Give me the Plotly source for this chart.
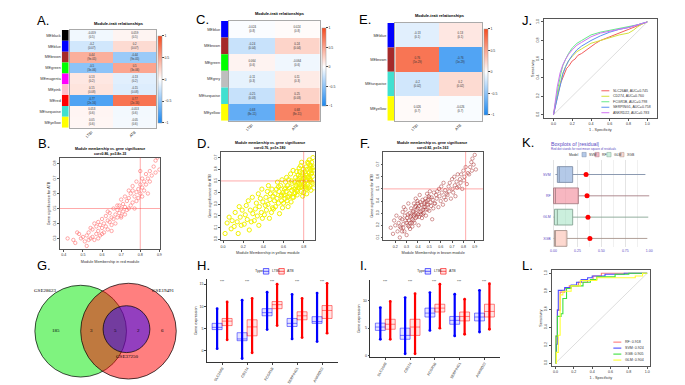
import plotly.graph_objects as go

W, H = 685, 385
SANS = "Liberation Sans, Arial, sans-serif"
SERIF = "Liberation Serif, Times New Roman, serif"

# ------------------------------------------------------------------ data
TRAITS = ["LTBI", "ATB"]

A_MODULES = ["MEblack", "MEblue", "MEbrown", "MEgreen", "MEmagenta", "MEpink", "MEred", "MEturquoise", "MEyellow"]
A_COLORS = ["#000000", "#0000ff", "#a52a2a", "#00ff00", "#ff00ff", "#ffc0cb", "#ff0000", "#40e0d0", "#ffff00"]
A_COR_LTBI = [-0.059, -0.2, 0.44, -0.5, 0.13, 0.15, -0.77, 0.053, 0.05]
A_PVAL = ["0.5", "0.07", "9e-05", "3e-06", "0.2", "0.08", "2e-16", "0.6", "0.6"]

C_MODULES = ["MEblue", "MEbrown", "MEgreen", "MEgrey", "MEturquoise", "MEyellow"]
C_COLORS = ["#0000ff", "#a52a2a", "#00ff00", "#bebebe", "#40e0d0", "#ffff00"]
C_COR_LTBI = [-0.024, -0.24, 0.064, -0.11, -0.25, -0.68]
C_PVAL = ["0.8", "0.04", "0.6", "0.3", "0.03", "8e-11"]

E_MODULES = ["MEblue", "MEbrown", "MEturquoise", "MEyellow"]
E_COLORS = ["#0000ff", "#a52a2a", "#40e0d0", "#ffff00"]
E_COR_LTBI = [-0.13, 0.76, -0.2, 0.026]
E_PVAL = ["0.1", "5e-29", "0.02", "0.7"]

B_PTS = [(0.42, 0.30), (0.45, 0.29), (0.46, 0.27), (0.48, 0.33), (0.49, 0.30), (0.50, 0.31), (0.51, 0.28),
         (0.52, 0.25), (0.52, 0.32), (0.53, 0.34), (0.54, 0.30), (0.55, 0.31), (0.55, 0.36), (0.56, 0.29),
         (0.57, 0.33), (0.57, 0.38), (0.58, 0.35), (0.58, 0.41), (0.59, 0.32), (0.59, 0.39), (0.60, 0.37),
         (0.60, 0.43), (0.61, 0.34), (0.61, 0.40), (0.62, 0.45), (0.62, 0.38), (0.63, 0.42), (0.63, 0.36),
         (0.64, 0.41), (0.64, 0.47), (0.65, 0.39), (0.65, 0.44), (0.66, 0.43), (0.66, 0.50), (0.67, 0.46),
         (0.67, 0.40), (0.68, 0.49), (0.68, 0.44), (0.69, 0.47), (0.69, 0.52), (0.70, 0.45), (0.70, 0.50),
         (0.71, 0.48), (0.71, 0.53), (0.72, 0.51), (0.72, 0.46), (0.73, 0.55), (0.73, 0.49), (0.74, 0.50),
         (0.74, 0.57), (0.75, 0.52), (0.75, 0.60), (0.76, 0.54), (0.76, 0.62), (0.77, 0.58), (0.77, 0.50),
         (0.78, 0.61), (0.78, 0.55), (0.79, 0.63), (0.79, 0.57), (0.80, 0.60), (0.80, 0.66), (0.81, 0.64),
         (0.81, 0.70), (0.82, 0.62), (0.82, 0.68), (0.83, 0.66), (0.83, 0.73), (0.84, 0.70), (0.84, 0.60),
         (0.85, 0.75), (0.85, 0.68), (0.86, 0.72), (0.87, 0.78), (0.88, 0.74), (0.88, 0.82), (0.89, 0.84),
         (0.90, 0.76), (0.80, 0.75), (0.78, 0.68), (0.47, 0.34), (0.53, 0.29), (0.56, 0.40), (0.60, 0.33),
         (0.63, 0.48), (0.65, 0.35), (0.68, 0.52), (0.70, 0.56), (0.72, 0.58), (0.74, 0.62), (0.76, 0.65),
         (0.81, 0.58), (0.70, 0.44), (0.58, 0.30), (0.54, 0.37)]

D_PTS = [(0.02, 0.05), (0.04, 0.14), (0.06, 0.19), (0.08, 0.09), (0.09, 0.16),
         (0.11, 0.11), (0.12, 0.23), (0.14, 0.15), (0.15, 0.05), (0.16, 0.28), (0.17, 0.19), (0.18, 0.12), (0.19, 0.25),
         (0.21, 0.13), (0.22, 0.21), (0.23, 0.29), (0.24, 0.17), (0.25, 0.33), (0.26, 0.08), (0.27, 0.25), (0.28, 0.15),
         (0.29, 0.36), (0.295, 0.22), (0.31, 0.16), (0.32, 0.26), (0.33, 0.31), (0.34, 0.20), (0.35, 0.39), (0.355, 0.12),
         (0.36, 0.28), (0.37, 0.35), (0.38, 0.23), (0.385, 0.43), (0.39, 0.18), (0.395, 0.32),
         (0.41, 0.21), (0.42, 0.29), (0.425, 0.36), (0.43, 0.25), (0.44, 0.41), (0.445, 0.30), (0.45, 0.46), (0.46, 0.18),
         (0.465, 0.34), (0.47, 0.39), (0.48, 0.23), (0.485, 0.43), (0.49, 0.27), (0.495, 0.37),
         (0.50, 0.26), (0.51, 0.33), (0.515, 0.39), (0.52, 0.28), (0.53, 0.43), (0.535, 0.35), (0.54, 0.49), (0.55, 0.31),
         (0.555, 0.41), (0.56, 0.22), (0.57, 0.46), (0.575, 0.37), (0.58, 0.33), (0.585, 0.51), (0.59, 0.27), (0.595, 0.40),
         (0.60, 0.31), (0.605, 0.38), (0.61, 0.43), (0.615, 0.35), (0.62, 0.49), (0.625, 0.41), (0.63, 0.53), (0.635, 0.33),
         (0.64, 0.46), (0.645, 0.28), (0.65, 0.51), (0.655, 0.37), (0.66, 0.44), (0.67, 0.56), (0.675, 0.32), (0.68, 0.42),
         (0.685, 0.48), (0.69, 0.36), (0.695, 0.59),
         (0.70, 0.36), (0.705, 0.43), (0.71, 0.49), (0.715, 0.40), (0.72, 0.53), (0.725, 0.46), (0.73, 0.58), (0.735, 0.38),
         (0.74, 0.51), (0.745, 0.55), (0.75, 0.44), (0.755, 0.61), (0.76, 0.47), (0.765, 0.54), (0.77, 0.63), (0.775, 0.41),
         (0.78, 0.50), (0.785, 0.57), (0.79, 0.37), (0.792, 0.52), (0.795, 0.46), (0.798, 0.60), (0.72, 0.44), (0.74, 0.48),
         (0.76, 0.52), (0.78, 0.66),
         (0.80, 0.40), (0.805, 0.48), (0.81, 0.53), (0.812, 0.45), (0.815, 0.58), (0.82, 0.50), (0.825, 0.62), (0.83, 0.43),
         (0.832, 0.55), (0.835, 0.60), (0.84, 0.47), (0.845, 0.65), (0.85, 0.53), (0.852, 0.57), (0.855, 0.68), (0.86, 0.46),
         (0.865, 0.51), (0.87, 0.63), (0.872, 0.42), (0.875, 0.56), (0.88, 0.49), (0.885, 0.61), (0.89, 0.54), (0.892, 0.70),
         (0.895, 0.59), (0.90, 0.44), (0.84, 0.66), (0.86, 0.52),
         (0.71, 0.39), (0.73, 0.42), (0.75, 0.49), (0.77, 0.45), (0.79, 0.55), (0.81, 0.47), (0.83, 0.51), (0.85, 0.44),
         (0.87, 0.59), (0.89, 0.48), (0.82, 0.56), (0.84, 0.53), (0.86, 0.61), (0.88, 0.57), (0.80, 0.52), (0.78, 0.45),
         (0.76, 0.58), (0.74, 0.41), (0.82, 0.44), (0.86, 0.64), (0.88, 0.66), (0.90, 0.62), (0.83, 0.39), (0.87, 0.50),
         (0.66, 0.39), (0.62, 0.44), (0.58, 0.38), (0.55, 0.45), (0.68, 0.50), (0.64, 0.36)]

F_PTS = [(0.16, 0.18), (0.18, 0.13), (0.19, 0.24), (0.20, 0.20), (0.21, 0.28), (0.22, 0.15), (0.23, 0.22), (0.24, 0.10),
         (0.245, 0.26), (0.25, 0.18), (0.26, 0.25), (0.265, 0.31), (0.27, 0.21), (0.275, 0.35), (0.28, 0.15), (0.285, 0.28),
         (0.29, 0.33), (0.30, 0.12), (0.305, 0.26), (0.31, 0.20), (0.315, 0.38), (0.32, 0.24), (0.325, 0.30), (0.33, 0.17),
         (0.335, 0.27), (0.34, 0.34), (0.345, 0.22), (0.35, 0.25), (0.355, 0.32), (0.36, 0.28), (0.365, 0.38), (0.37, 0.22),
         (0.375, 0.35), (0.38, 0.42), (0.385, 0.30), (0.39, 0.27), (0.395, 0.40), (0.40, 0.34), (0.405, 0.20), (0.41, 0.36),
         (0.415, 0.45), (0.42, 0.31), (0.425, 0.29), (0.43, 0.37), (0.435, 0.26), (0.44, 0.41), (0.445, 0.33), (0.36, 0.31),
         (0.38, 0.26), (0.40, 0.29), (0.42, 0.39), (0.45, 0.30), (0.455, 0.38), (0.46, 0.35), (0.465, 0.42), (0.47, 0.28),
         (0.475, 0.40), (0.48, 0.46), (0.485, 0.33), (0.49, 0.37), (0.495, 0.44), (0.50, 0.32), (0.505, 0.48), (0.51, 0.39),
         (0.515, 0.36), (0.52, 0.43), (0.525, 0.25), (0.53, 0.41), (0.535, 0.34), (0.54, 0.47), (0.545, 0.38),
         (0.55, 0.38), (0.56, 0.45), (0.565, 0.42), (0.57, 0.48), (0.58, 0.35), (0.585, 0.50), (0.59, 0.44), (0.60, 0.40),
         (0.605, 0.52), (0.61, 0.47), (0.62, 0.37), (0.625, 0.55), (0.63, 0.43), (0.64, 0.49), (0.645, 0.41), (0.65, 0.46),
         (0.66, 0.45), (0.67, 0.52), (0.675, 0.48), (0.68, 0.55), (0.69, 0.42), (0.70, 0.58), (0.705, 0.50), (0.71, 0.47),
         (0.72, 0.60), (0.725, 0.53), (0.73, 0.44), (0.74, 0.56), (0.745, 0.51), (0.75, 0.62),
         (0.76, 0.52), (0.77, 0.58), (0.775, 0.55), (0.78, 0.62), (0.79, 0.50), (0.80, 0.65), (0.805, 0.57), (0.81, 0.60),
         (0.82, 0.68), (0.83, 0.54), (0.84, 0.63), (0.85, 0.62), (0.86, 0.68), (0.87, 0.72), (0.875, 0.65), (0.88, 0.75),
         (0.89, 0.70), (0.90, 0.78), (0.91, 0.66),
         (0.27, 0.18), (0.29, 0.24), (0.31, 0.29), (0.33, 0.22), (0.35, 0.19), (0.37, 0.29), (0.39, 0.33), (0.41, 0.27),
         (0.43, 0.32), (0.45, 0.35), (0.47, 0.33), (0.49, 0.41), (0.34, 0.28), (0.36, 0.24), (0.38, 0.36), (0.40, 0.38),
         (0.44, 0.29), (0.46, 0.39), (0.48, 0.37), (0.50, 0.43), (0.30, 0.22), (0.32, 0.19), (0.26, 0.15), (0.24, 0.19)]

J_GENES = ["SLC26A8", "CD274", "FCGR1B", "SERPING1", "ANKRD22"]
J_AUC = ["0.745", "0.760", "0.798", "0.758", "0.783"]
J_COLORS = ["#f25c5c", "#d4e23a", "#66e98a", "#5b8ef0", "#d072f2"]
J_FPR = [
    [0, 0.02, 0.04, 0.06, 0.08, 0.1, 0.12, 0.14, 0.16, 0.18, 0.2, 0.23, 0.26, 0.3, 0.35, 0.4, 0.45, 0.5, 0.55, 0.6, 0.7, 0.8, 0.9, 1.0],
    [0, 0.02, 0.05, 0.08, 0.1, 0.13, 0.16, 0.2, 0.25, 0.3, 0.35, 0.4, 0.5, 0.6, 0.7, 0.8, 0.85, 0.9, 0.95, 1.0],
    [0, 0.02, 0.05, 0.08, 0.1, 0.13, 0.16, 0.2, 0.25, 0.3, 0.35, 0.4, 0.5, 0.6, 0.7, 0.8, 0.9, 1.0],
    [0, 0.02, 0.05, 0.08, 0.1, 0.13, 0.16, 0.2, 0.25, 0.3, 0.35, 0.4, 0.5, 0.6, 0.7, 0.8, 0.9, 1.0],
    [0, 0.02, 0.04, 0.07, 0.1, 0.13, 0.16, 0.2, 0.25, 0.3, 0.35, 0.4, 0.5, 0.6, 0.7, 0.8, 0.9, 1.0],
]
J_TPR = [
    [0, 0.1, 0.2, 0.28, 0.35, 0.4, 0.45, 0.5, 0.52, 0.55, 0.58, 0.6, 0.64, 0.66, 0.7, 0.73, 0.77, 0.8, 0.82, 0.84, 0.88, 0.92, 0.96, 1.0],
    [0, 0.12, 0.25, 0.38, 0.45, 0.52, 0.58, 0.63, 0.68, 0.71, 0.74, 0.77, 0.8, 0.83, 0.86, 0.88, 0.91, 0.95, 0.98, 1.0],
    [0, 0.14, 0.3, 0.45, 0.53, 0.6, 0.66, 0.72, 0.77, 0.8, 0.83, 0.86, 0.89, 0.91, 0.93, 0.95, 0.97, 1.0],
    [0, 0.1, 0.22, 0.35, 0.44, 0.52, 0.58, 0.64, 0.7, 0.74, 0.77, 0.8, 0.85, 0.89, 0.92, 0.94, 0.97, 1.0],
    [0, 0.15, 0.3, 0.45, 0.54, 0.6, 0.65, 0.7, 0.75, 0.78, 0.81, 0.84, 0.88, 0.9, 0.92, 0.94, 0.97, 1.0],
]

L_MODELS = ["RF", "SVM", "XGB", "GLM"]
L_AUC = ["0.918", "0.924", "0.905", "0.904"]
L_COLORS = ["#ff7b7b", "#4d4dff", "#3de03d", "#ffff33"]
L_FPR = [
    [0, 0.005, 0.005, 0.02, 0.02, 0.05, 0.05, 0.1, 0.1, 0.15, 0.15, 0.25, 0.25, 0.35, 0.35, 0.41, 0.41, 0.5, 0.5, 1.0],
    [0, 0.01, 0.01, 0.02, 0.02, 0.03, 0.03, 0.1, 0.1, 0.17, 0.17, 0.23, 0.23, 0.28, 0.28, 0.35, 0.35, 0.4, 0.4, 0.54, 0.54, 0.75, 0.75, 1.0],
    [0, 0.005, 0.005, 0.02, 0.02, 0.06, 0.06, 0.08, 0.08, 0.12, 0.12, 0.17, 0.17, 0.3, 0.3, 0.38, 0.38, 0.45, 0.45, 0.65, 0.65, 0.8, 0.8, 1.0],
    [0, 0.01, 0.01, 0.03, 0.03, 0.05, 0.05, 0.08, 0.08, 0.17, 0.17, 0.27, 0.27, 0.45, 0.45, 0.87, 0.87, 0.95, 0.95, 1.0],
]
L_TPR = [
    [0, 0, 0.3, 0.3, 0.59, 0.59, 0.79, 0.79, 0.83, 0.83, 0.86, 0.86, 0.9, 0.9, 0.92, 0.92, 0.97, 0.97, 1.0, 1.0],
    [0, 0, 0.21, 0.21, 0.59, 0.59, 0.81, 0.81, 0.84, 0.84, 0.87, 0.87, 0.9, 0.9, 0.93, 0.93, 0.95, 0.95, 0.97, 0.97, 0.99, 0.99, 1.0, 1.0],
    [0, 0, 0.3, 0.3, 0.52, 0.52, 0.55, 0.55, 0.72, 0.72, 0.83, 0.83, 0.86, 0.86, 0.9, 0.9, 0.93, 0.93, 0.96, 0.96, 0.99, 0.99, 1.0, 1.0],
    [0, 0, 0.12, 0.12, 0.31, 0.31, 0.76, 0.76, 0.8, 0.8, 0.86, 0.86, 0.92, 0.92, 0.95, 0.95, 0.97, 0.97, 1.0, 1.0],
]
DIAG = [0, 1]

K_MODELS = ["SVM", "RF", "GLM", "XGB"]
K_FILL = ["rgba(118,156,214,0.55)", "rgba(240,112,132,0.5)", "rgba(140,220,180,0.45)", "rgba(250,168,148,0.45)"]
K_LINE = ["#7f8fa8", "#a87f86", "#86a594", "#a8948c"]
K_LO = [0.02, 0.0, 0.0, 0.0]
K_Q1 = [0.04, 0.0, 0.01, 0.01]
K_MED = [0.06, 0.02, 0.04, 0.02]
K_Q3 = [0.20, 0.26, 0.20, 0.14]
K_HI = [0.96, 1.0, 0.99, 0.98]
K_RMSE = [0.34, 0.35, 0.36, 0.38]

VENN_SETS = ["GSE28623", "GSE19491", "GSE37250"]
VENN_COUNTS = ["185", "3", "5", "2", "6"]

GENES = ["SLC26A8", "CD274", "FCGR1B", "SERPING1", "ANKRD22"]
H_LTBI = dict(lo=[0.5, -1.7, 4.8, 2.7, 2.1], q1=[4.8, 2.3, 7.9, 5.5, 6.2], med=[5.3, 2.7, 8.6, 6.2, 6.6],
              q3=[6.2, 4.1, 9.5, 7.3, 7.7], hi=[9.5, 11.4, 13.2, 12.7, 13.0])
H_ATB = dict(lo=[2.5, -0.4, 5.7, 3.0, 4.0], q1=[5.7, 3.4, 9.5, 7.0, 7.3], med=[6.7, 5.4, 10.4, 7.9, 9.1],
             q3=[7.3, 7.0, 11.1, 8.8, 10.2], hi=[11.0, 11.8, 15.0, 11.8, 15.2])
I_LTBI = dict(lo=[3.0, 0.4, 4.6, 3.6, 4.3], q1=[4.6, 3.0, 7.0, 5.7, 6.3], med=[5.2, 3.7, 7.7, 6.4, 7.0],
              q3=[5.9, 5.0, 8.6, 7.1, 7.7], hi=[8.7, 10.5, 11.4, 11.1, 11.8])
I_ATB = dict(lo=[3.0, 0.4, 5.0, 3.9, 4.8], q1=[4.8, 3.7, 7.9, 6.3, 7.0], med=[5.7, 5.2, 8.6, 7.1, 8.0],
             q3=[6.6, 6.6, 9.3, 7.9, 9.3], hi=[9.8, 11.2, 12.9, 10.2, 13.0])

# ------------------------------------------------------------------ helpers
fig = go.Figure()
LAYOUT = {}
ANN = []
SHAPES = []


def add_axes(i, x0, x1, ytop, ybot, xkw=None, ykw=None):
    xn, yn = ("xaxis", "yaxis") if i == 1 else (f"xaxis{i}", f"yaxis{i}")
    xr, yr = ("x", "y") if i == 1 else (f"x{i}", f"y{i}")
    xa = dict(domain=[x0 / W, x1 / W], anchor=yr)
    ya = dict(domain=[1 - ybot / H, 1 - ytop / H], anchor=xr)
    xa.update(xkw or {})
    ya.update(ykw or {})
    LAYOUT[xn] = xa
    LAYOUT[yn] = ya
    return xr, yr


def note(text, xpx, ypx, size, xanchor="center", yanchor="middle", color="#000", family=SANS, angle=0):
    ANN.append(dict(text=text, x=xpx / W, y=1 - ypx / H, xref="paper", yref="paper", showarrow=False,
                    xanchor=xanchor, yanchor=yanchor, textangle=angle,
                    font=dict(size=size, color=color, family=family)))


def rbase(**kw):
    d = dict(showline=True, mirror=True, linecolor="#555", linewidth=0.6, ticks="outside", ticklen=2,
             tickwidth=0.5, tickcolor="#555", tickfont=dict(size=3.6, color="#333"), showgrid=False,
             zeroline=False)
    d.update(kw)
    return d


CS = [[0, "#1a87f0"], [0.5, "#ffffff"], [1, "#f64a1e"]]


def heat_panel(ib, ih, modules, colors, cor, pvals, colx, heatx, ytop, ybot, cbx, cbtop, cbbot):
    xr, yr = add_axes(ib, colx[0], colx[1], ytop, ybot,
                      xkw=dict(range=[0, 1], visible=False),
                      ykw=dict(type="category", categoryorder="array", categoryarray=modules,
                               autorange="reversed", showline=False, ticks="", showgrid=False,
                               tickfont=dict(size=3.8, color="#333")))
    fig.add_trace(go.Bar(x=[1] * len(modules), y=modules, orientation="h", width=1,
                         marker=dict(color=colors, line=dict(width=0)), xaxis=xr, yaxis=yr,
                         hoverinfo="skip"))
    z = [[v, -v] for v in cor]
    text = [[f"{v:g}<br>({p})", f"{-v:g}<br>({p})"] for v, p in zip(cor, pvals)]
    xr2, yr2 = add_axes(ih, heatx[0], heatx[1], ytop, ybot,
                        xkw=dict(type="category", tickangle=-45, tickfont=dict(size=3.8, color="#333"),
                                 showline=True, mirror=True, linecolor="#aaa", linewidth=0.8, ticks="",
                                 showgrid=False),
                        ykw=dict(type="category", categoryorder="array", categoryarray=modules,
                                 autorange="reversed", showticklabels=False, showline=True, mirror=True,
                                 linecolor="#aaa", linewidth=0.8, ticks="", showgrid=False))
    fig.add_trace(go.Heatmap(z=z, x=TRAITS, y=modules, text=text, texttemplate="%{text}",
                             textfont=dict(size=2.8, color="#333"), colorscale=CS, zmin=-1, zmax=1,
                             xaxis=xr2, yaxis=yr2, hoverinfo="skip",
                             colorbar=dict(x=cbx / W, xanchor="left", y=1 - (cbtop + cbbot) / 2 / H,
                                           yanchor="middle", len=(cbbot - cbtop) / H, lenmode="fraction",
                                           thickness=4, tickvals=[-1, -0.5, 0, 0.5, 1],
                                           ticktext=["−1", "−0.5", "0", "0.5", "1"],
                                           tickfont=dict(size=3.5, color="#333"), ticks="outside", ticklen=2,
                                           tickwidth=0.5, outlinewidth=0.5, outlinecolor="#999",
                                           xpad=0, ypad=0)))


# ------------------------------------------------------------------ A, C, E heatmaps
heat_panel(1, 2, A_MODULES, A_COLORS, A_COR_LTBI, A_PVAL, (53, 60), (61, 148), 22, 120, 150, 28, 115)
note("<b>Module-trait relationships</b>", 110, 16, 4)
heat_panel(3, 4, C_MODULES, C_COLORS, C_COR_LTBI, C_PVAL, (213, 220), (221, 312), 13, 113, 314, 20, 98)
note("<b>Module-trait relationships</b>", 272, 6, 4)
heat_panel(5, 6, E_MODULES, E_COLORS, E_COR_LTBI, E_PVAL, (380, 387), (388, 475), 15, 113, 477, 21, 107)
note("<b>Module-trait relationships</b>", 433, 8, 4)


# ------------------------------------------------------------------ B, D, F scatter
def scatter_panel(i, pts, box, xrange, yrange, xticks, yticks, color, size, lw, xtitle, title2, tx, ty, vline, hline):
    xr, yr = add_axes(i, box[0], box[1], box[2], box[3],
                      xkw=rbase(range=xrange, tickvals=xticks, ticktext=[f"{v:.1f}" for v in xticks],
                                title=dict(text=xtitle, font=dict(size=3.8, color="#333"), standoff=3)),
                      ykw=rbase(range=yrange, tickvals=yticks, ticktext=[f"{v:.1f}" for v in yticks], tickangle=-90,
                                title=dict(text="Gene significance for ATB", font=dict(size=3.8, color="#333"),
                                           standoff=2)))
    fig.add_trace(go.Scatter(x=[p[0] for p in pts], y=[p[1] for p in pts], mode="markers", xaxis=xr, yaxis=yr,
                             marker=dict(symbol="circle-open", color=color, size=size, line=dict(width=lw)),
                             hoverinfo="skip"))
    SHAPES.append(dict(type="line", xref=f"{xr} domain", yref=yr, x0=0, x1=1, y0=hline, y1=hline,
                       line=dict(color="rgba(255,60,60,0.55)", width=0.8)))
    SHAPES.append(dict(type="line", xref=xr, yref=f"{yr} domain", x0=vline, x1=vline, y0=0, y1=1,
                       line=dict(color="rgba(255,60,60,0.55)", width=0.8)))
    note("<b>Module membership vs. gene significance</b>", tx, ty, 3.5)
    note(f"<b>{title2}</b>", tx, ty + 5.5, 3.5)


scatter_panel(8, B_PTS, (51, 152, 150, 242), [0.379, 0.905], [0.227, 0.84],
              [0.4, 0.5, 0.6, 0.7, 0.8, 0.9], [0.3, 0.4, 0.5, 0.6, 0.7, 0.8], "#ff7070", 3.4, 0.6,
              "Module Membership in red module", "cor=0.86, p=3.8e-33", 101, 141, 0.8, 0.5)
scatter_panel(9, D_PTS, (213, 307, 144, 233), [-0.02, 0.909], [-0.009, 0.751],
              [0.0, 0.2, 0.4, 0.6, 0.8], [0.0, 0.1, 0.2, 0.3, 0.4, 0.5, 0.6, 0.7], "#f2f200", 4.2, 1.0,
              "Module Membership in yellow module", "cor=0.76, p=1e-180", 262, 135, 0.8, 0.5)
scatter_panel(10, F_PTS, (376, 476, 144, 233), [0.095, 0.972], [0.076, 0.807],
              [0.2, 0.3, 0.4, 0.5, 0.6, 0.7, 0.8, 0.9], [0.1, 0.2, 0.3, 0.4, 0.5, 0.6, 0.7], "rgba(165,42,42,0.8)",
              3.4, 0.6, "Module Membership in brown module", "cor=0.82, p=1e-163", 425, 135, 0.82, 0.5)

# ------------------------------------------------------------------ J ROC
xr, yr = add_axes(7, 537, 651, 11, 110,
                  xkw=rbase(range=[-0.105, 1.105], tickvals=[0, 0.2, 0.4, 0.6, 0.8, 1.0],
                            ticktext=["0.0", "0.2", "0.4", "0.6", "0.8", "1.0"],
                            title=dict(text="1 - Specificity", font=dict(size=3.8, color="#333"), standoff=3)),
                  ykw=rbase(range=[-0.032, 1.032], tickvals=[0, 0.2, 0.4, 0.6, 0.8, 1.0],
                            ticktext=["0.0", "0.2", "0.4", "0.6", "0.8", "1.0"], tickangle=-90,
                            title=dict(text="Sensitivity", font=dict(size=3.8, color="#333"), standoff=2)))
fig.add_trace(go.Scatter(x=DIAG, y=DIAG, mode="lines", line=dict(color="#d0d0d0", width=0.7), xaxis=xr, yaxis=yr,
                         hoverinfo="skip"))
for g, auc, c, fx, fy, k in zip(J_GENES, J_AUC, J_COLORS, J_FPR, J_TPR, range(5)):
    fig.add_trace(go.Scatter(x=fx, y=fy, mode="lines", line=dict(color=c, width=1.0), xaxis=xr, yaxis=yr,
                             hoverinfo="skip"))
    ly = 83 + 5.5 * k
    SHAPES.append(dict(type="line", xref="paper", yref="paper", x0=595 / W, x1=603 / W, y0=1 - ly / H, y1=1 - ly / H,
                       line=dict(color=c, width=1.0)))
    note(f"{g}, AUC={auc}", 605, ly, 3.5, xanchor="left", color="#333")

# ------------------------------------------------------------------ L ROC
xr, yr = add_axes(15, 545, 644, 263, 359,
                  xkw=rbase(range=[-0.043, 1.033], tickvals=[0, 0.2, 0.4, 0.6, 0.8, 1.0],
                            ticktext=["0.0", "0.2", "0.4", "0.6", "0.8", "1.0"],
                            title=dict(text="1 - Specificity", font=dict(size=3.8, color="#333"), standoff=3)),
                  ykw=rbase(range=[-0.033, 1.033], tickvals=[0, 0.2, 0.4, 0.6, 0.8, 1.0],
                            ticktext=["0.0", "0.2", "0.4", "0.6", "0.8", "1.0"], tickangle=-90,
                            title=dict(text="Sensitivity", font=dict(size=3.8, color="#333"), standoff=2)))
fig.add_trace(go.Scatter(x=DIAG, y=DIAG, mode="lines", line=dict(color="#d0d0d0", width=0.7), xaxis=xr, yaxis=yr,
                         hoverinfo="skip"))
for m, auc, c, fx, fy, k in zip(L_MODELS, L_AUC, L_COLORS, L_FPR, L_TPR, range(4)):
    fig.add_trace(go.Scatter(x=fx, y=fy, mode="lines", line=dict(color=c, width=1.1), xaxis=xr, yaxis=yr,
                             hoverinfo="skip"))
    ly = 335 + 6 * k
    SHAPES.append(dict(type="line", xref="paper", yref="paper", x0=607 / W, x1=615 / W, y0=1 - ly / H, y1=1 - ly / H,
                       line=dict(color=c, width=1.1)))
    note(f"{m}: {auc}", 617, ly, 3.6, xanchor="left", color="#333")

# ------------------------------------------------------------------ K residual boxplots
PURPLE = "#5b4bc4"
xr, yr = add_axes(11, 545, 644, 152, 240,
                  xkw=dict(range=[-0.02, 1.01], tick0=0, dtick=0.25, tickformat=".2f", showline=False,
                           zeroline=False, ticks="", showgrid=True, gridcolor="#e4e4e4", gridwidth=0.6,
                           minor=dict(showgrid=True, gridcolor="#f0f0f0", dtick=0.125, gridwidth=0.5),
                           tickfont=dict(size=3.5, color=PURPLE)),
                  ykw=dict(type="category", categoryorder="array", categoryarray=K_MODELS, range=[3.42, -0.7],
                           showline=False, ticks="", showgrid=False, zeroline=False,
                           tickfont=dict(size=3.5, color=PURPLE)))
for m, fc, lc, lo, q1, md, q3, hi in zip(K_MODELS, K_FILL, K_LINE, K_LO, K_Q1, K_MED, K_Q3, K_HI):
    fig.add_trace(go.Box(y=[m], q1=[q1], median=[md], q3=[q3], lowerfence=[lo], upperfence=[hi],
                         orientation="h", fillcolor=fc, line=dict(color=lc, width=0.9), width=0.74,
                         whiskerwidth=0, xaxis=xr, yaxis=yr, hoverinfo="skip"))
fig.add_trace(go.Scatter(x=K_RMSE, y=K_MODELS, mode="markers", marker=dict(color="#ff0000", size=5),
                         xaxis=xr, yaxis=yr, hoverinfo="skip"))
note("Boxplots of |residual|", 542, 136, 5.2, xanchor="left", color=PURPLE)
note("Red dot stands for root mean square of residuals", 542, 141.5, 3.0, xanchor="left", color=PURPLE)
note("Model", 574, 147, 3.4, xanchor="right", color="#333")
for kx, tx, m, fc, lc in zip([575.5, 588.5, 600.5, 613.5], [580.5, 593.5, 605.5, 618.5], K_MODELS, K_FILL, K_LINE):
    SHAPES.append(dict(type="rect", xref="paper", yref="paper", x0=kx / W, x1=(kx + 4.2) / W,
                       y0=1 - 149.2 / H, y1=1 - 144.8 / H, fillcolor=fc, line=dict(color=lc, width=0.5)))
    note(m, tx, 147, 3.4, xanchor="left", color="#333")

# ------------------------------------------------------------------ G Venn
xr, yr = add_axes(12, 20, 175, 270, 378,
                  xkw=dict(range=[-52, 103], visible=False), ykw=dict(range=[-54, 54], visible=False))
fig.add_trace(go.Scatter(x=[0], y=[0], mode="markers", marker=dict(opacity=0), xaxis=xr, yaxis=yr, hoverinfo="skip"))
VENN_GEOM = [(0, 0, 46, "rgba(0,232,0,0.5)"), (48, 0, 48, "rgba(255,0,0,0.5)"), (46, 2, 23.5, "rgba(40,0,255,0.5)")]
for cx, cy, r, fc in VENN_GEOM:
    SHAPES.append(dict(type="circle", xref=xr, yref=yr, x0=cx - r, x1=cx + r, y0=cy - r, y1=cy + r,
                       fillcolor=fc, line=dict(color="#000", width=0.7), layer="above"))
for s, (lx, ly) in zip(VENN_SETS, [(36, 283), (155, 283), (119, 349)]):
    note(s, lx, ly, 5, family=SERIF)
for c, lx in zip(VENN_COUNTS, [47, 83, 107, 130, 154]):
    note(c, lx, 323, 5, family=SERIF)


# ------------------------------------------------------------------ H, I expression boxplots
def expr_panel(i, box, yrange, yticks, ltbi, atb, star_y, legend_x):
    xr, yr = add_axes(i, box[0], box[1], box[2], box[3],
                      xkw=dict(range=[-0.6, 4.62], tickvals=list(range(5)), ticktext=GENES, tickangle=-60,
                               showline=True, linecolor="#333", linewidth=0.6, ticks="outside", ticklen=2,
                               tickwidth=0.5, tickfont=dict(size=3.6, color="#333"), showgrid=False, zeroline=False),
                      ykw=dict(range=yrange, tickvals=yticks, showline=True, linecolor="#333", linewidth=0.6,
                               ticks="outside", ticklen=2, tickwidth=0.5, tickfont=dict(size=3.6, color="#333"),
                               showgrid=False, zeroline=False,
                               title=dict(text="Gene expression", font=dict(size=3.8, color="#333"), standoff=2)))
    for stats, off, rgb in [(ltbi, -0.2, "0,0,255"), (atb, 0.2, "255,0,0")]:
        pos = [g + off for g in range(5)]
        fig.add_trace(go.Box(x=pos, q1=stats["q1"], median=stats["med"], q3=stats["q3"],
                             lowerfence=stats["q1"], upperfence=stats["q3"], width=0.4,
                             fillcolor=f"rgba({rgb},0.10)", line=dict(color=f"rgba({rgb},0.55)", width=0.9),
                             whiskerwidth=0, xaxis=xr, yaxis=yr, hoverinfo="skip"))
        sx, sy = [], []
        for p, lo, hi in zip(pos, stats["lo"], stats["hi"]):
            sx += [p, p, None]
            sy += [lo, hi, None]
        fig.add_trace(go.Scatter(x=sx, y=sy, mode="lines+markers", line=dict(color=f"rgb({rgb})", width=2.2),
                                 marker=dict(color=f"rgb({rgb})", size=2.8), xaxis=xr, yaxis=yr,
                                 hoverinfo="skip", connectgaps=False))
    for g in range(5):
        ANN.append(dict(text="***", x=g, y=star_y, xref=xr, yref=yr, showarrow=False,
                        font=dict(size=3.6, color="#333", family=SANS)))
    lx = legend_x
    note("Type", lx, 264, 3.8, xanchor="left", color="#333")
    for kx, tx, lab, rgb in [(lx + 10, lx + 16.5, "LTBI", "0,0,255"), (lx + 25.5, lx + 32, "ATB", "255,0,0")]:
        SHAPES.append(dict(type="rect", xref="paper", yref="paper", x0=kx / W, x1=(kx + 5.5) / W,
                           y0=1 - 266.8 / H, y1=1 - 261.2 / H, fillcolor=f"rgba({rgb},0.12)",
                           line=dict(color=f"rgb({rgb})", width=0.6)))
        SHAPES.append(dict(type="line", xref="paper", yref="paper", x0=kx / W, x1=(kx + 5.5) / W,
                           y0=1 - 264 / H, y1=1 - 264 / H, line=dict(color=f"rgb({rgb})", width=0.6)))
        note(lab, tx, 264, 3.6, xanchor="left", color="#333")


expr_panel(13, (199, 330, 272, 355), [-2.5, 16.1], [0, 5, 10, 15], H_LTBI, H_ATB, 15.4, 245.5)
expr_panel(14, (363, 493, 273, 350), [-0.2, 13.6], [0, 5, 10], I_LTBI, I_ATB, 13.3, 408)

# ------------------------------------------------------------------ panel letters
for lab, lx, ly in [("A.", 26, 13), ("C.", 186, 12), ("E.", 350, 12), ("J.", 513, 13),
                    ("B.", 27, 136), ("D.", 187, 136), ("F.", 351, 136), ("K.", 513, 135),
                    ("G.", 26, 258), ("H.", 187, 258), ("I.", 351, 258), ("L.", 513, 258)]:
    note(lab, lx, ly, 13, xanchor="left")

LAYOUT.update(dict(width=W, height=H, autosize=False, margin=dict(l=0, r=0, t=0, b=0),
                   paper_bgcolor="white", plot_bgcolor="white", showlegend=False,
                   font=dict(family=SANS, color="#333"), annotations=ANN, shapes=SHAPES))
fig.update_layout(**LAYOUT)
fig.write_html("out.html")
